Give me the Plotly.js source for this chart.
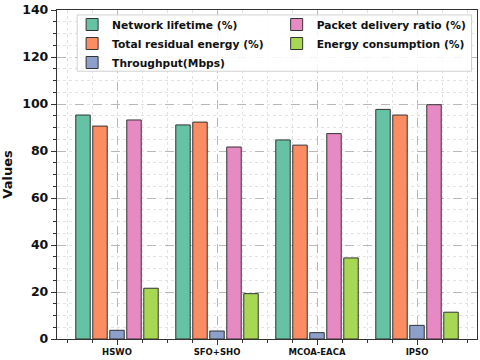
<!DOCTYPE html>
<html>
<head>
<meta charset="utf-8">
<script src="https://cdn.plot.ly/plotly-3.0.1.min.js"></script>
<style>html,body{margin:0;padding:0;background:#fff;}#chart{width:480px;height:360px;}</style>
</head>
<body>
<div id="chart"></div>
<script>
const categories = ["HSWO", "SFO+SHO", "MCOA-EACA", "IPSO"];
const networkLifetime = [95.3, 91.1, 84.7, 97.7];
const residualEnergy = [90.6, 92.3, 82.5, 95.3];
const throughput = [3.7, 3.4, 2.7, 5.8];
const packetDelivery = [93.2, 81.7, 87.4, 99.7];
const energyConsumption = [21.6, 19.3, 34.5, 11.4];
const seriesNames = ["Network lifetime (%)", "Total residual energy (%)", "Throughput(Mbps)", "Packet delivery ratio (%)", "Energy consumption (%)"];
const seriesColors = ["#66c2a5", "#fc8d62", "#8da0cb", "#e78ac3", "#a6d854"];
const legendColumn = ["legend", "legend", "legend", "legend2", "legend2"];
const yTicks = [0, 20, 40, 60, 80, 100, 120, 140];

const xIdx = categories.map((c, i) => i);
const allSeries = [networkLifetime, residualEnergy, throughput, packetDelivery, energyConsumption];

const traces = allSeries.map((vals, k) => ({
  type: 'bar',
  x: xIdx,
  y: vals,
  name: seriesNames[k],
  legend: legendColumn[k],
  marker: {color: seriesColors[k], line: {color: '#333333', width: 1}},
  hoverinfo: 'skip'
}));

const font = "DejaVu Sans, sans-serif";
const legendFont = {family: font, size: 10.7, color: '#111111', weight: 'bold'};
const layout = {
  width: 480, height: 360,
  margin: {l: 57, r: 3, t: 10, b: 21, pad: 0},
  paper_bgcolor: '#ffffff', plot_bgcolor: '#ffffff',
  barmode: 'group', bargap: 0.15, bargroupgap: 0.15,
  font: {family: font, color: '#111111'},
  showlegend: true,
  legend: {
    orientation: 'v', x: 0.036, y: 1.0, xanchor: 'left', yanchor: 'top',
    bgcolor: 'rgba(0,0,0,0)', borderwidth: 0, font: legendFont, traceorder: 'normal', itemwidth: 30
  },
  legend2: {
    orientation: 'v', x: 0.523, y: 1.0, xanchor: 'left', yanchor: 'top',
    bgcolor: 'rgba(0,0,0,0)', borderwidth: 0, font: legendFont, traceorder: 'normal', itemwidth: 30
  },
  shapes: [{
    type: 'rect', xref: 'paper', yref: 'paper',
    x0: 0.048, x1: 0.987, y0: 0.814, y1: 0.985,
    fillcolor: 'rgba(255,255,255,0.85)', line: {color: '#d0d0d0', width: 1}, layer: 'above'
  }],
  xaxis: {
    type: 'linear', range: [-0.6, 3.6],
    tickmode: 'array', tickvals: xIdx, ticktext: categories,
    tickfont: {family: font, size: 8.5, weight: 'bold', color: '#111111'},
    ticks: 'outside', ticklen: 5, tickwidth: 1, tickcolor: '#333333',
    showline: true, linecolor: '#333333', linewidth: 1.2, mirror: true,
    showgrid: true, gridcolor: '#b8b8b8', gridwidth: 1, griddash: 'dash',
    zeroline: false,
    minor: {dtick: 0.25, tick0: 0, ticks: 'outside', ticklen: 3, tickcolor: '#333333', showgrid: true, gridcolor: '#e2e2e2', griddash: 'dot', gridwidth: 1}
  },
  yaxis: {
    range: [0, 140], tickmode: 'array', tickvals: yTicks,
    tickfont: {family: font, size: 12.5, weight: 'bold', color: '#111111'},
    ticks: 'outside', ticklen: 5, tickwidth: 1, tickcolor: '#333333',
    showline: true, linecolor: '#333333', linewidth: 1.2, mirror: true,
    showgrid: true, gridcolor: '#b8b8b8', gridwidth: 1, griddash: 'dash',
    zeroline: false,
    minor: {dtick: 5, tick0: 0, ticks: 'outside', ticklen: 3, tickcolor: '#333333', showgrid: true, gridcolor: '#e2e2e2', griddash: 'dot', gridwidth: 1},
    title: {text: 'Values', font: {family: font, size: 13, weight: 'bold', color: '#111111'}, standoff: 8}
  }
};

Plotly.newPlot('chart', traces, layout, {displayModeBar: false, staticPlot: true});
</script>
</body>
</html>
